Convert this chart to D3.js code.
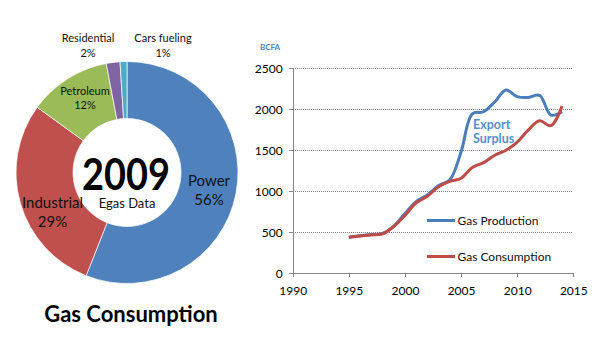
<!DOCTYPE html>
<html><head><meta charset="utf-8">
<script src="https://cdn.jsdelivr.net/npm/d3@7/dist/d3.min.js"></script>
<style>body{margin:0;background:#fff}svg{display:block}text{font-family:Lato,"Open Sans",sans-serif}</style>
</head><body>
<svg id="c" width="600" height="360"></svg>
<script>
// Donut data
const segments = ["Power","Industrial","Petroleum","Residential","Cars fueling"];
const shares = [56,29,12,2,1];
const segColors = ["#4f81bd","#c0504d","#9bbb59","#8064a2","#4bacc6"];

// Line data
const years = [1995,1996,1997,1998,1999,2000,2001,2002,2003,2004,2005,2006,2007,2008,2009,2010,2011,2012,2013,2014];
const production = [440,458,472,485,575,730,875,955,1070,1140,1480,1945,1970,2090,2235,2155,2145,2170,1930,1970];
const consumption = [440,455,468,480,570,705,860,940,1055,1120,1160,1290,1350,1440,1500,1600,1750,1860,1800,2040];
const xTicks = [1990,1995,2000,2005,2010,2015];
const yTicks = [0,500,1000,1500,2000,2500];

const svg = d3.select("#c");

// ---- Donut ----
const cx = 127, cy = 172.5, rOut = 111, rIn = 54;
const pie = d3.pie().sort(null).value(d => d)(shares);
const arc = d3.arc().innerRadius(rIn).outerRadius(rOut);
const g = svg.append("g").attr("transform", `translate(${cx},${cy})`);
g.selectAll("path").data(pie).join("path")
  .attr("d", arc).attr("fill", (d,i) => segColors[i])
  .attr("stroke", "#fff").attr("stroke-width", 0.7);

const lab = [
  {t:["Power","56%"], x:209, y:[186,205], fs:15},
  {t:["Industrial","29%"], x:52.5, y:[208,227], fs:15},
  {t:["Petroleum","12%"], x:85, y:[95,109], fs:11},
  {t:["Residential","2%"], x:88, y:[42,57], fs:11},
  {t:["Cars fueling","1%"], x:163, y:[42,57], fs:11}
];
lab.forEach(l => {
  l.t.forEach((s,j) => svg.append("text").attr("x", l.x).attr("y", l.y[j])
    .attr("text-anchor","middle").attr("font-size", l.fs).attr("fill","#111").text(s));
});
svg.append("text").attr("x",82).attr("y",190).attr("textLength",88).attr("lengthAdjust","spacingAndGlyphs")
  .attr("font-size",43).attr("font-weight","bold").attr("fill","#000").text("2009");
svg.append("text").attr("x",127).attr("y",208).attr("text-anchor","middle")
  .attr("font-size",13).attr("fill","#111").text("Egas Data");
svg.append("text").attr("x",131).attr("y",322).attr("text-anchor","middle")
  .attr("font-size",22).attr("font-weight","bold").attr("fill","#000").text("Gas Consumption");

// ---- Line chart ----
const x = d3.scaleLinear().domain([1990,2015]).range([292.7,573.3]);
const y = d3.scaleLinear().domain([0,2500]).range([273.3,68.3]);

// gridlines
svg.append("g").selectAll("line").data(yTicks.filter(v => v>0)).join("line")
  .attr("x1", x(1990)).attr("x2", x(2015)).attr("y1", d=>y(d)).attr("y2", d=>y(d))
  .attr("stroke","#808080").attr("stroke-width",1).attr("stroke-dasharray","1,1")
  .attr("shape-rendering","crispEdges");

const yAxis = svg.append("g").attr("transform",`translate(${x(1990)},0)`)
  .call(d3.axisLeft(y).tickValues(yTicks).tickSize(4).tickPadding(6).tickFormat(d3.format("d")));
const xAxis = svg.append("g").attr("transform",`translate(0,${y(0)})`)
  .call(d3.axisBottom(x).tickValues(xTicks).tickSize(4).tickPadding(9).tickFormat(d3.format("d")));
[yAxis,xAxis].forEach(a => {
  a.select(".domain").attr("stroke","#868686").attr("shape-rendering","crispEdges");
  a.selectAll(".tick line").attr("stroke","#868686").attr("shape-rendering","crispEdges");
  a.selectAll("text").attr("font-size",12).attr("fill","#000").style("font-family","Lato,sans-serif");
});

const line = d3.line().curve(d3.curveCatmullRom.alpha(0.5));
svg.append("path").attr("d", line(years.map((yr,i)=>[x(yr), y(production[i])])))
  .attr("fill","none").attr("stroke","#4a7ebb").attr("stroke-width",3);
svg.append("path").attr("d", line(years.map((yr,i)=>[x(yr), y(consumption[i])])))
  .attr("fill","none").attr("stroke","#be4b48").attr("stroke-width",3);

svg.append("text").attr("x",260).attr("y",50).attr("font-size",8).attr("font-weight","bold")
  .attr("fill","#4f81bd").text("BCFA");
svg.append("text").attr("x",473).attr("y",128.5).attr("font-size",12.5).attr("font-weight","bold")
  .attr("fill","#558ed5").text("Export");
svg.append("text").attr("x",473).attr("y",142.5).attr("font-size",12.5).attr("font-weight","bold")
  .attr("fill","#558ed5").text("Surplus");

// legend
const legNames = ["Gas Production","Gas Consumption"];
const legColors = ["#4a7ebb","#be4b48"];
const legY = [220.5,256.5];
legNames.forEach((n,i) => {
  svg.append("line").attr("x1",427).attr("x2",455).attr("y1",legY[i]).attr("y2",legY[i])
    .attr("stroke",legColors[i]).attr("stroke-width",3);
  svg.append("text").attr("x",457.5).attr("y",legY[i]+4.2).attr("font-size",12)
    .attr("fill","#111").text(n);
});
</script>
</body></html>
